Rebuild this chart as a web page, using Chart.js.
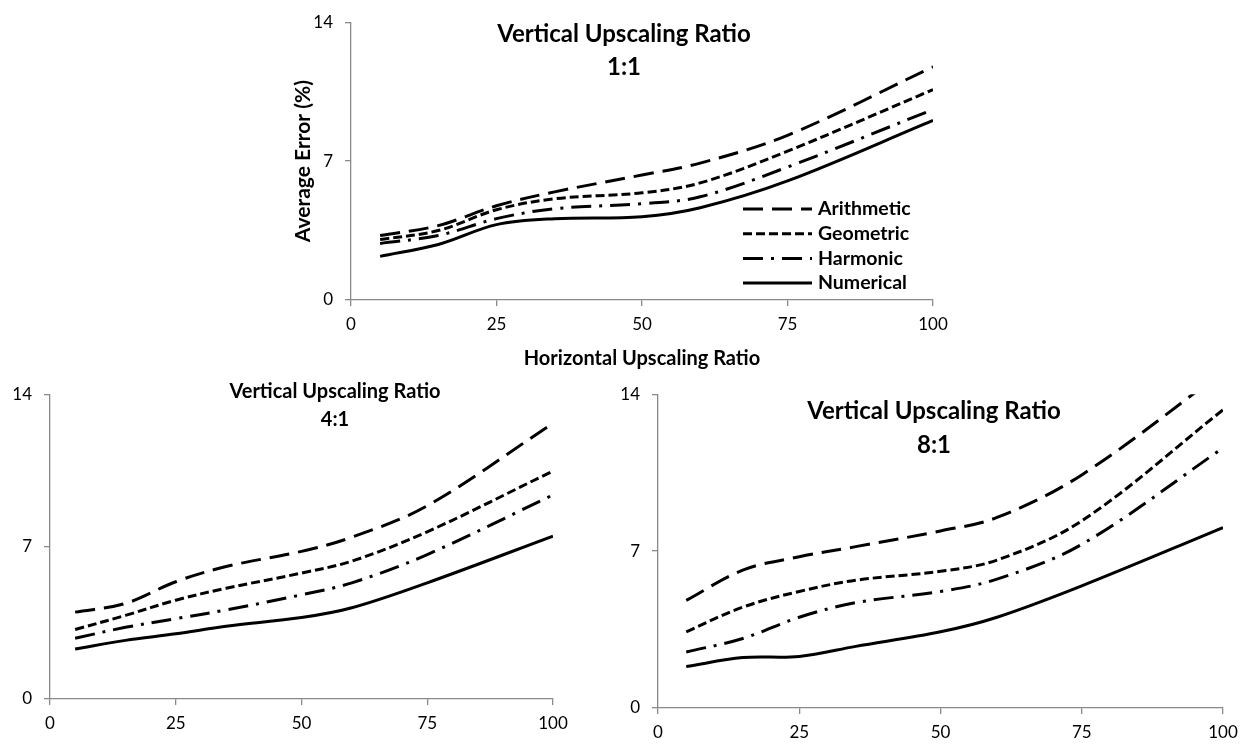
<!DOCTYPE html>
<html>
<head>
<meta charset="utf-8">
<script src="https://cdn.jsdelivr.net/npm/chart.js@4/dist/chart.umd.min.js"></script>
<style>
  body { margin: 0; background: #fff; }
  #wrap { position: relative; width: 1252px; height: 748px; }
  canvas { position: absolute; }
</style>
</head>
<body>
<div id="wrap">
  <canvas id="chart11" width="1252" height="372" style="left:0;top:0"></canvas>
  <canvas id="chart41" width="600" height="376" style="left:0;top:372px"></canvas>
  <canvas id="chart81" width="652" height="376" style="left:600px;top:372px"></canvas>
</div>
<script>
// --- DATA ---
const xValues = [5, 15, 25, 35, 50, 60, 75, 100];
const seriesNames = ['Arithmetic', 'Geometric', 'Harmonic', 'Numerical'];
const yTicks = [0, 7, 14];
const xTicks = [0, 25, 50, 75, 100];

// vertical ratio 1:1
const arithmetic11 = [3.25, 3.75, 4.75, 5.45, 6.3, 6.9, 8.3, 11.75];
const geometric11  = [3.05, 3.5, 4.55, 5.1, 5.4, 5.9, 7.5, 10.6];
const harmonic11   = [2.85, 3.25, 4.1, 4.6, 4.85, 5.2, 6.7, 9.6];
const numerical11  = [2.2, 2.8, 3.8, 4.1, 4.2, 4.65, 6.0, 9.05];

// vertical ratio 4:1
const arithmetic41 = [4.0, 4.4, 5.4, 6.1, 6.8, 7.45, 8.9, 12.7];
const geometric41  = [3.2, 3.85, 4.55, 5.1, 5.8, 6.35, 7.7, 10.5];
const harmonic41   = [2.8, 3.3, 3.7, 4.1, 4.8, 5.35, 6.65, 9.4];
const numerical41  = [2.3, 2.7, 3.0, 3.35, 3.75, 4.2, 5.35, 7.5];

// vertical ratio 8:1
const arithmetic81 = [4.8, 6.15, 6.75, 7.2, 7.9, 8.5, 10.4, 15.0];
const geometric81  = [3.4, 4.5, 5.2, 5.7, 6.1, 6.6, 8.35, 13.3];
const harmonic81   = [2.5, 3.1, 4.05, 4.7, 5.2, 5.75, 7.3, 11.6];
const numerical81  = [1.85, 2.25, 2.3, 2.75, 3.4, 4.05, 5.45, 8.05];

// --- STYLE ---
const FONT = 'Lato, "Open Sans", sans-serif';
const AXIS_GREY = '#898989';
const lineStyles = [
    { borderDash: [20, 9] },
    { borderDash: [9, 4] },
    { borderDash: [20, 8, 3, 8] },
    { borderDash: [] }
];

function makeDatasets(seriesList) {
    return seriesList.map((values, i) => ({
        label: seriesNames[i],
        data: xValues.map((x, j) => ({ x: x, y: values[j] })),
        borderColor: '#000',
        borderWidth: 3,
        borderDash: lineStyles[i].borderDash,
        pointRadius: 0,
        fill: false,
        tension: 0.35
    }));
}

// titles drawn inside the plot, legend drawn inside the 1:1 plot
const overlayPlugin = {
    id: 'overlay',
    afterDatasetsDraw(chart, args, opts) {
        const ctx = chart.ctx;
        ctx.save();
        ctx.fillStyle = '#000';
        ctx.textAlign = 'center';
        ctx.textBaseline = 'middle';
        ctx.font = 'bold ' + opts.titleSize + 'px ' + FONT;
        opts.titleLines.forEach((line, i) => {
            ctx.fillText(line, opts.titleX, opts.titleY[i]);
        });
        if (opts.legend) {
            const lg = opts.legend;
            chart.data.datasets.forEach((ds, i) => {
                const y = lg.y + i * lg.rowGap;
                ctx.strokeStyle = '#000';
                ctx.lineWidth = 3;
                ctx.setLineDash(ds.borderDash);
                ctx.beginPath();
                ctx.moveTo(lg.x1, y);
                ctx.lineTo(lg.x2, y);
                ctx.stroke();
                ctx.setLineDash([]);
                ctx.textAlign = 'left';
                ctx.font = 'bold ' + lg.size + 'px ' + FONT;
                ctx.fillText(ds.label, lg.textX, y);
            });
        }
        ctx.restore();
    }
};

function makeChart(id, seriesList, cfg) {
    return new Chart(document.getElementById(id), {
        type: 'line',
        data: { datasets: makeDatasets(seriesList) },
        options: {
            responsive: false,
            animation: false,
            layout: { padding: cfg.padding },
            plugins: {
                legend: { display: false },
                tooltip: { enabled: false },
                overlay: cfg.overlay
            },
            scales: {
                x: {
                    type: 'linear', min: 0, max: 100,
                    afterBuildTicks: (s) => { s.ticks = xTicks.map(v => ({ value: v })); },
                    afterFit: (s) => { s.height = cfg.xHeight; },
                    border: { color: AXIS_GREY, width: 1.3 },
                    grid: { drawOnChartArea: false, color: AXIS_GREY, tickLength: 6, lineWidth: 1.3 },
                    ticks: { color: '#000', font: { family: FONT, size: 17 }, padding: 8, maxRotation: 0 },
                    title: cfg.xTitle ? {
                        display: true, text: cfg.xTitle, color: '#000',
                        padding: { top: 4, bottom: 1 },
                        font: { family: FONT, size: 20, weight: 'bold' }
                    } : { display: false }
                },
                y: {
                    min: 0, max: 14,
                    afterBuildTicks: (s) => { s.ticks = yTicks.map(v => ({ value: v })); },
                    afterFit: (s) => { s.width = cfg.yWidth; },
                    border: { color: AXIS_GREY, width: 1.3 },
                    grid: { drawOnChartArea: false, color: AXIS_GREY, tickLength: 6, lineWidth: 1.3 },
                    ticks: { color: '#000', font: { family: FONT, size: 17 }, padding: 12 },
                    title: cfg.yTitle ? {
                        display: true, text: cfg.yTitle, color: '#000',
                        font: { family: FONT, size: 21, weight: 'bold' }
                    } : { display: false }
                }
            }
        },
        plugins: [overlayPlugin]
    });
}

// --- CHARTS ---
makeChart('chart11', [arithmetic11, geometric11, harmonic11, numerical11], {
    padding: { left: 287, right: 319, top: 14, bottom: 0 },
    yWidth: 64, xHeight: 72,
    xTitle: 'Horizontal Upscaling Ratio',
    yTitle: 'Average Error (%)',
    overlay: {
        titleLines: ['Vertical Upscaling Ratio', '1:1'],
        titleX: 624, titleY: [34, 67], titleSize: 24,
        legend: { x1: 743, x2: 812, textX: 818, y: 209, rowGap: 24.7, size: 19.5 }
    }
});

makeChart('chart41', [arithmetic41, geometric41, harmonic41, numerical41], {
    padding: { left: 0, right: 47, top: 23, bottom: 0 },
    yWidth: 50, xHeight: 49,
    overlay: {
        titleLines: ['Vertical Upscaling Ratio', '4:1'],
        titleX: 335, titleY: [20, 48], titleSize: 20
    }
});

makeChart('chart81', [arithmetic81, geometric81, harmonic81, numerical81], {
    padding: { left: 0, right: 29, top: 16, bottom: 0 },
    yWidth: 58, xHeight: 40,
    overlay: {
        titleLines: ['Vertical Upscaling Ratio', '8:1'],
        titleX: 334, titleY: [39, 73], titleSize: 24
    }
});
</script>
</body>
</html>
